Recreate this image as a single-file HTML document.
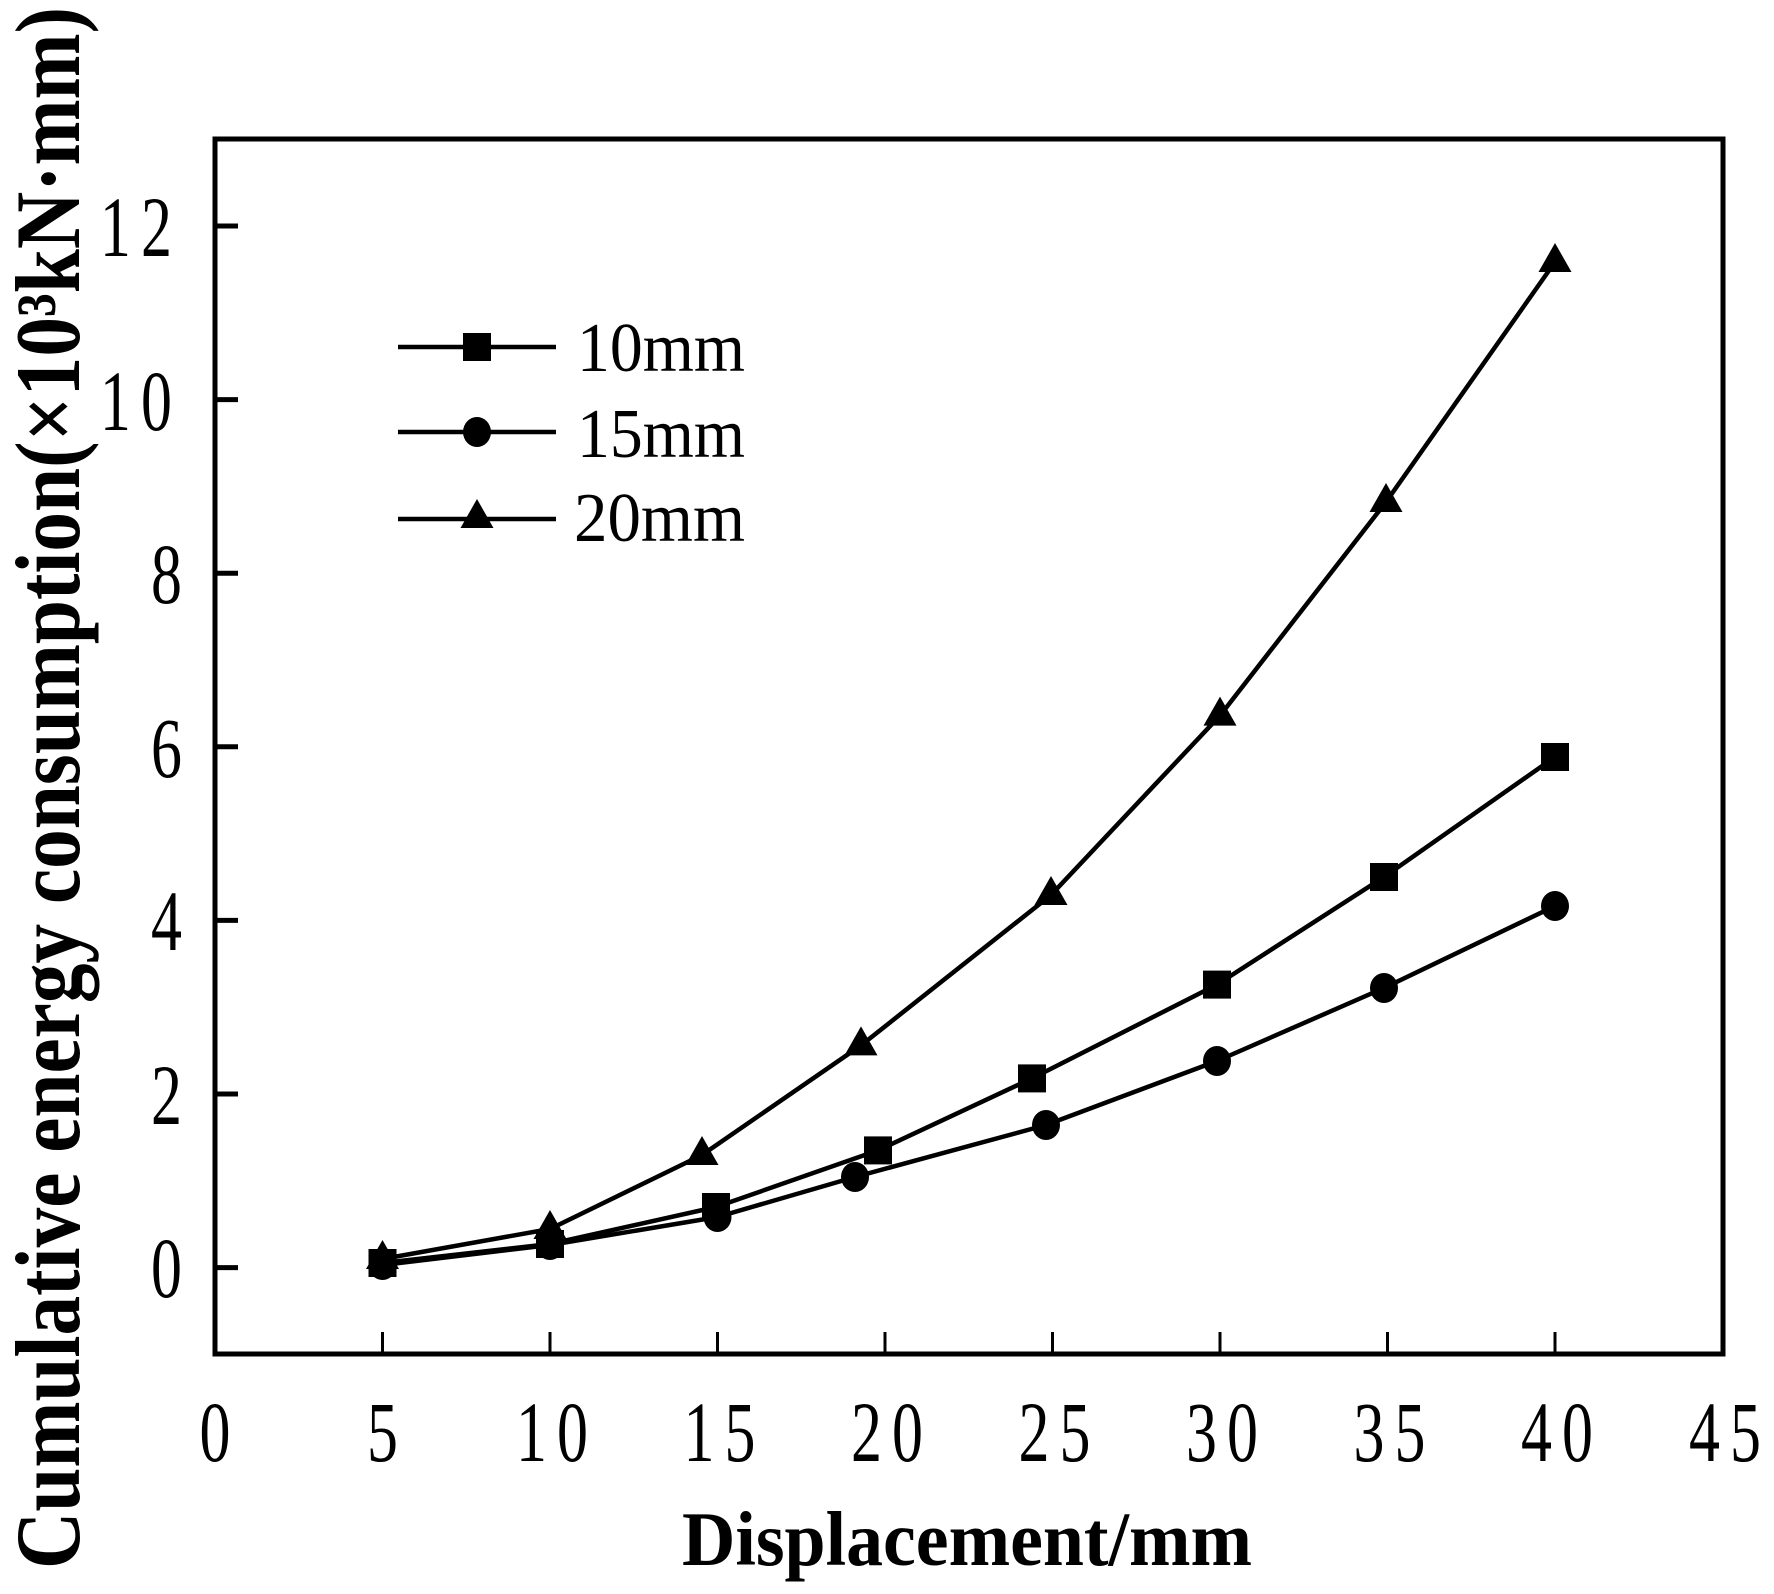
<!DOCTYPE html>
<html><head><meta charset="utf-8"><style>html,body{margin:0;padding:0;background:#fff}svg{display:block}</style></head>
<body>
<svg width="1774" height="1594" viewBox="0 0 1774 1594" xmlns="http://www.w3.org/2000/svg" font-family="Liberation Serif, serif">
<rect width="1774" height="1594" fill="#fff"/>
<rect x="215" y="139" width="1508" height="1215" fill="none" stroke="#000" stroke-width="5"/>
<g stroke="#000" stroke-width="5">
<line x1="215" y1="1267.6" x2="238" y2="1267.6"/>
<line x1="215" y1="1094" x2="238" y2="1094"/>
<line x1="215" y1="920.4" x2="238" y2="920.4"/>
<line x1="215" y1="746.8" x2="238" y2="746.8"/>
<line x1="215" y1="573.2" x2="238" y2="573.2"/>
<line x1="215" y1="399.6" x2="238" y2="399.6"/>
<line x1="215" y1="226" x2="238" y2="226"/>
</g>
<g stroke="#000" stroke-width="3">
<line x1="382.5" y1="1354" x2="382.5" y2="1332"/>
<line x1="550" y1="1354" x2="550" y2="1332"/>
<line x1="717.5" y1="1354" x2="717.5" y2="1332"/>
<line x1="885" y1="1354" x2="885" y2="1332"/>
<line x1="1052.5" y1="1354" x2="1052.5" y2="1332"/>
<line x1="1220" y1="1354" x2="1220" y2="1332"/>
<line x1="1387.5" y1="1354" x2="1387.5" y2="1332"/>
<line x1="1555" y1="1354" x2="1555" y2="1332"/>
</g>
<g font-size="86" text-anchor="end">
<text transform="translate(182,1297) scale(0.72,1)">0</text>
<text transform="translate(182,1124) scale(0.72,1)">2</text>
<text transform="translate(182,950) scale(0.72,1)">4</text>
<text transform="translate(182,777) scale(0.72,1)">6</text>
<text transform="translate(182,603) scale(0.72,1)">8</text>
<text transform="translate(182,430) scale(0.72,1)" letter-spacing="14">10</text>
<text transform="translate(182,256) scale(0.72,1)" letter-spacing="14">12</text>
</g>
<g font-size="86" text-anchor="middle">
<text transform="translate(215,1461) scale(0.72,1)">0</text>
<text transform="translate(382.5,1461) scale(0.72,1)">5</text>
<text transform="translate(557,1461) scale(0.72,1)" letter-spacing="14">10</text>
<text transform="translate(724.5,1461) scale(0.72,1)" letter-spacing="14">15</text>
<text transform="translate(892,1461) scale(0.72,1)" letter-spacing="14">20</text>
<text transform="translate(1059.5,1461) scale(0.72,1)" letter-spacing="14">25</text>
<text transform="translate(1227,1461) scale(0.72,1)" letter-spacing="14">30</text>
<text transform="translate(1394.5,1461) scale(0.72,1)" letter-spacing="14">35</text>
<text transform="translate(1562,1461) scale(0.72,1)" letter-spacing="14">40</text>
<text transform="translate(1730,1461) scale(0.72,1)" letter-spacing="14">45</text>
</g>
<text x="682" y="1565" font-size="77" font-weight="bold" textLength="570" lengthAdjust="spacingAndGlyphs">Displacement/mm</text>
<text transform="translate(79,1569) rotate(-90)" font-size="92" font-weight="bold" textLength="1562" lengthAdjust="spacingAndGlyphs">Cumulative energy consumption(×10³kN·mm)</text>
<g fill="none" stroke="#000" stroke-width="4.5" stroke-linejoin="round">
<polyline points="382.5,1263 550,1244 716,1207 878,1150.4 1032,1078.4 1217,984.6 1384,877 1555,757"/>
<polyline points="382.5,1265 550,1245 717.5,1217 855,1177 1046,1125 1217,1061 1384,988 1555,906"/>
<polyline points="382.5,1259 550,1229 702,1155 861,1045.4 1051,895 1220,715.6 1386,502 1555,262"/>
</g>
<g fill="#000">
<rect x="368.5" y="1249" width="28" height="28"/>
<rect x="536" y="1230" width="28" height="28"/>
<rect x="702" y="1193" width="28" height="28"/>
<rect x="864" y="1136.4" width="28" height="28"/>
<rect x="1018" y="1064.4" width="28" height="28"/>
<rect x="1203" y="970.6" width="28" height="28"/>
<rect x="1370" y="863" width="28" height="28"/>
<rect x="1541" y="743" width="28" height="28"/>
<ellipse cx="382.5" cy="1265" rx="14" ry="15"/>
<ellipse cx="550" cy="1245" rx="14" ry="15"/>
<ellipse cx="717.5" cy="1217" rx="14" ry="15"/>
<ellipse cx="855" cy="1177" rx="14" ry="15"/>
<ellipse cx="1046" cy="1125" rx="14" ry="15"/>
<ellipse cx="1217" cy="1061" rx="14" ry="15"/>
<ellipse cx="1384" cy="988" rx="14" ry="15"/>
<ellipse cx="1555" cy="906" rx="14" ry="15"/>
<polygon points="382.5,1240 366,1269 399,1269"/>
<polygon points="550,1210 533.5,1239 566.5,1239"/>
<polygon points="702,1136 685.5,1165 718.5,1165"/>
<polygon points="861,1026.4 844.5,1055.4 877.5,1055.4"/>
<polygon points="1051,876 1034.5,905 1067.5,905"/>
<polygon points="1220,696.6 1203.5,725.6 1236.5,725.6"/>
<polygon points="1386,483 1369.5,512 1402.5,512"/>
<polygon points="1555,243 1538.5,272 1571.5,272"/>
</g>
<g stroke="#000" stroke-width="4.5">
<line x1="398" y1="347" x2="556" y2="347"/>
<line x1="398" y1="432" x2="556" y2="432"/>
<line x1="398" y1="519" x2="556" y2="519"/>
</g>
<g fill="#000">
<rect x="463" y="333" width="28" height="28"/>
<ellipse cx="477" cy="432" rx="14" ry="15"/>
<polygon points="477,499 460.5,528 493.5,528"/>
</g>
<g font-size="70">
<text x="577" y="371" textLength="168" lengthAdjust="spacingAndGlyphs">10mm</text>
<text x="577" y="457" textLength="168" lengthAdjust="spacingAndGlyphs">15mm</text>
<text x="574" y="541" textLength="171" lengthAdjust="spacingAndGlyphs">20mm</text>
</g>
</svg>
</body></html>
